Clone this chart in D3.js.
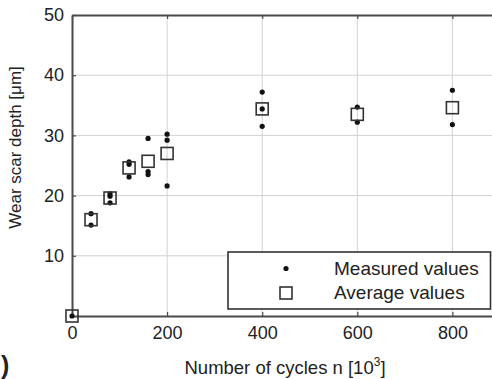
<!DOCTYPE html>
<html>
<head>
<meta charset="utf-8">
<script src="https://cdn.jsdelivr.net/npm/d3@7"></script>
<style>
  html, body { margin: 0; padding: 0; background: #fff; }
  svg { display: block; }
  text { font-family: "Liberation Sans", Arial, sans-serif; fill: #222; }
</style>
</head>
<body>
<svg id="chart" width="492" height="379"></svg>
<script>
// Wear scar depth vs. number of load cycles (in thousands)
const cycles = [0, 40, 80, 120, 160, 200, 400, 600, 800];
const measured = [
  [0],
  [15.1, 17.0],
  [18.8, 19.9, 20.3],
  [23.1, 25.2, 25.6],
  [23.5, 24.0, 29.5],
  [21.6, 29.2, 30.2],
  [31.5, 34.4, 37.2],
  [32.2, 34.7],
  [31.8, 37.5]
];
const averages = [0, 16.0, 19.6, 24.6, 25.7, 27.0, 34.4, 33.5, 34.6];
const xTicks = [0, 200, 400, 600, 800];
const yTicks = [10, 20, 30, 40, 50];
const legendLabels = ["Measured values", "Average values"];

const svg = d3.select("#chart");
const margin = { left: 72, top: 15, bottom: 316 };
const x = d3.scaleLinear().domain([0, 900]).range([margin.left, margin.left + 900 * 0.4755]);
const y = d3.scaleLinear().domain([0, 50]).range([margin.bottom, margin.top]);

const axisColor = "#4a4a4a";
const gridColor = "#d2d2d2";

// grid
const grid = svg.append("g");
grid.selectAll("line.vx").data(xTicks.filter(d => d > 0)).join("line")
  .attr("x1", d => x(d)).attr("x2", d => x(d))
  .attr("y1", y(0)).attr("y2", y(50))
  .attr("stroke", gridColor).attr("stroke-width", 1);
grid.selectAll("line.hy").data(yTicks.filter(d => d < 50)).join("line")
  .attr("x1", x(0)).attr("x2", x(900))
  .attr("y1", d => y(d)).attr("y2", d => y(d))
  .attr("stroke", gridColor).attr("stroke-width", 1);

// axes (inward ticks)
const xAxisBottom = d3.axisBottom(x).tickValues(xTicks).tickSizeInner(-4).tickSizeOuter(0)
  .tickPadding(10).tickFormat(d3.format("d"));
const xAxisTop = d3.axisTop(x).tickValues(xTicks).tickSizeInner(-4).tickSizeOuter(0).tickFormat("");
const yAxisLeft = d3.axisLeft(y).tickValues(yTicks).tickSizeInner(-4).tickSizeOuter(0)
  .tickPadding(8).tickFormat(d3.format("d"));

function styleAxis(g) {
  g.select(".domain").attr("stroke", axisColor).attr("stroke-width", 2);
  g.selectAll(".tick line").attr("stroke", axisColor).attr("stroke-width", 1.2);
  g.selectAll(".tick text").attr("font-size", 18).attr("fill", "#222")
    .attr("font-family", "Liberation Sans, Arial, sans-serif");
}

svg.append("g").attr("transform", `translate(0,${y(0)})`).call(xAxisBottom).call(styleAxis);
svg.append("g").attr("transform", `translate(0,${y(50)})`).call(xAxisTop).call(styleAxis);
svg.append("g").attr("transform", `translate(${x(0)},0)`).call(yAxisLeft).call(styleAxis);

// data: measured points
const pts = [];
cycles.forEach((c, i) => measured[i].forEach(v => pts.push({ c, v })));
svg.append("g").selectAll("circle").data(pts).join("circle")
  .attr("cx", d => x(d.c)).attr("cy", d => y(d.v)).attr("r", 2.6)
  .attr("fill", "#111");

// data: average squares
const bs = 12;
svg.append("g").selectAll("rect").data(cycles.map((c, i) => ({ c, v: averages[i] }))).join("rect")
  .attr("x", d => x(d.c) - bs / 2).attr("y", d => y(d.v) - bs / 2)
  .attr("width", bs).attr("height", bs)
  .attr("fill", "none").attr("stroke", "#333").attr("stroke-width", 1.6);

// legend
const lg = svg.append("g");
lg.append("rect").attr("x", 228).attr("y", 252).attr("width", 262.5).attr("height", 57)
  .attr("fill", "#fff").attr("stroke", "#333").attr("stroke-width", 1.6);
lg.append("circle").attr("cx", 286).attr("cy", 268.5).attr("r", 2.6).attr("fill", "#111");
lg.append("rect").attr("x", 286 - bs / 2).attr("y", 293 - bs / 2).attr("width", bs).attr("height", bs)
  .attr("fill", "none").attr("stroke", "#333").attr("stroke-width", 1.6);
lg.selectAll("text").data(legendLabels).join("text")
  .attr("x", 334).attr("y", (d, i) => 274.5 + i * 24.8)
  .attr("font-size", 19).text(d => d);

// axis titles
const xt = svg.append("text").attr("x", 285).attr("y", 374).attr("text-anchor", "middle").attr("font-size", 18.5);
xt.append("tspan").text("Number of cycles n [10");
xt.append("tspan").attr("dy", -8).attr("font-size", 12).text("3");
xt.append("tspan").attr("dy", 8).text("]");

svg.append("text").attr("transform", `translate(20.5,147.5) rotate(-90)`)
  .attr("text-anchor", "middle").attr("font-size", 17).text("Wear scar depth [\u03bcm]");

// panel label
svg.append("text").attr("x", 1).attr("y", 374).attr("font-size", 25).attr("font-weight", "bold").text(")");
</script>
</body>
</html>
